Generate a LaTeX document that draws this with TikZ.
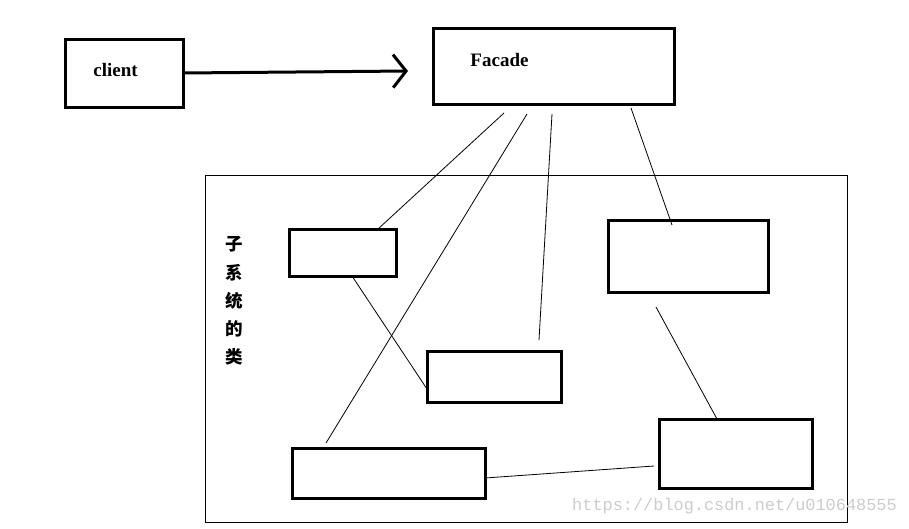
\documentclass[tikz,border=0pt]{standalone}
\usepackage{fontspec}
\setmainfont{Liberation Serif}
\newfontfamily\cjk{Noto Sans CJK SC}
\newfontfamily\wmfont{Liberation Mono}
\usetikzlibrary{arrows.meta}
\begin{document}
\begin{tikzpicture}[x=1pt,y=-1pt,
   box/.style={draw,line width=3pt,inner sep=0pt,outer sep=0pt},
   link/.style={line width=0.8pt},
   lbl/.style={font=\bfseries\fontsize{19}{19}\selectfont}]
   \useasboundingbox (0,0) rectangle (909,528);
   \node[box,minimum width=118pt,minimum height=68pt] (client) at (124,73) {};
   \node[box,minimum width=241pt,minimum height=76pt] (facade) at (553.5,66) {};
   \node[lbl] (clientlbl) at (115.5,70) {client};
   \node[lbl] (facadelbl) at (499.5,60) {Facade};
   \node[draw,line width=1pt,minimum width=642pt,minimum height=347pt,inner sep=0pt,outer sep=0pt] (subsys) at (526.5,349) {};
   \node[align=center,font=\cjk\bfseries\fontsize{17.5}{28.2}\selectfont] (subsyslbl) at (234.5,301) {子\\系\\统\\的\\类};
   \node[box,minimum width=107pt,minimum height=47pt] (sysA) at (342.5,252.5) {};
   \node[box,minimum width=134pt,minimum height=51pt] (sysB) at (494,376.5) {};
   \node[box,minimum width=193pt,minimum height=50pt] (sysC) at (388.5,473) {};
   \node[box,minimum width=160pt,minimum height=72pt] (sysD) at (688,256) {};
   \node[box,minimum width=153pt,minimum height=69pt] (sysE) at (735.5,453.5) {};
   \coordinate (facadein) at (408,71);
   \coordinate (fa1) at (504,113);
   \coordinate (fa2) at (527,114);
   \coordinate (fa3) at (552,114);
   \coordinate (fa4) at (631,108);
   \coordinate (toC) at (326,443);
   \coordinate (toB) at (539,340);
   \coordinate (toD) at (672,225);
   \coordinate (toE) at (654,466);
   \coordinate (fromD) at (656,307);
   \draw[line width=3pt,-{Straight Barb[length=13pt,width=33pt]}] (client.east) -- (facadein);
   \draw[link] (fa1) -- ([xshift=35.5pt]sysA.north);
   \draw[link] (fa2) -- (toC);
   \draw[link] (fa3) -- (toB);
   \draw[link] (fa4) -- (toD);
   \draw[link] ([xshift=9.5pt]sysA.south) -- ([yshift=-12.5pt]sysB.west);
   \draw[link] ([yshift=-5pt]sysC.east) -- (toE);
   \draw[link] (fromD) -- ([xshift=-18.5pt]sysE.north);
   \node[text=black!20,font=\wmfont\fontsize{16.9}{17}\selectfont] (watermark) at (734.5,506) {https://blog.csdn.net/u010648555};
\end{tikzpicture}
\end{document}
